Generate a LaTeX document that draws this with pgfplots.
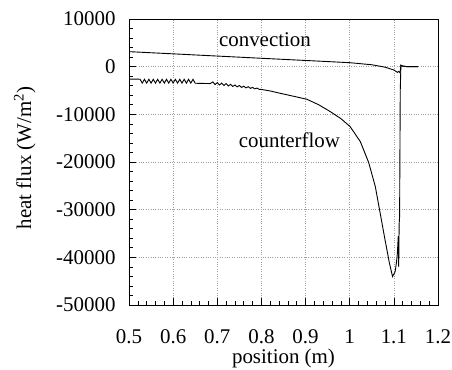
\documentclass[border=0pt]{standalone}
\usepackage{fontspec}
\setmainfont{Liberation Serif}
\usepackage{pgfplots}
\pgfplotsset{compat=1.18}
\begin{document}
\begin{tikzpicture}
\begin{axis}[
 width=309bp, height=286bp, scale only axis,
 xmin=0.5, xmax=1.2, ymin=-50000, ymax=10000,
 scaled y ticks=false, scaled x ticks=false,
 xtick={0.5,0.6,0.7,0.8,0.9,1,1.1,1.2},
 xticklabels={0.5,0.6,0.7,0.8,0.9,1,1.1,1.2},
 ytick={-50000,-40000,-30000,-20000,-10000,0,10000},
 yticklabels={-50000,-40000,-30000,-20000,-10000,0,10000},
 minor x tick num=4, minor y tick num=4,
 tick pos=left, tick align=inside,
 major tick length=7bp, minor tick length=4bp,
 grid=major, major grid style={dotted, gray!75, line width=0.5bp},
 axis line style={line width=0.8bp},
 tick style={line width=0.6bp, black},
 font=\fontsize{21}{24}\selectfont,
 ticklabel style={font=\fontsize{21}{24}\selectfont},
 xticklabel style={yshift=-21bp},
 yticklabel style={xshift=-10bp},
 xlabel={position (m)},
 ylabel={heat flux (W/m\textsuperscript{2})},
 xlabel style={at={(axis description cs:0.5,-0.187)}, anchor=center, inner sep=0pt},
 ylabel style={at={(axis description cs:-0.337,0.514)}, anchor=center, inner sep=0pt},
]
\addplot[black, line width=0.9bp] coordinates {
(0.5,3150) (0.6,2690) (0.7,2225) (0.8,1760) (0.9,1300) (0.95,1070) (1.0,835)
(1.05,400) (1.08,-100) (1.10,-700) (1.108,-1200) (1.111,-1000) (1.114,-1300)
(1.116,300) (1.12,150) (1.13,0) (1.155,0)
};
\addplot[black, line width=0.9bp] coordinates {
(0.500,-2600) (0.520,-2600)
(0.525,-2650) (0.530,-3450) (0.535,-2650) (0.540,-3450) (0.545,-2650) (0.550,-3450)
(0.555,-2650) (0.560,-3450) (0.565,-2650) (0.570,-3450) (0.575,-2650) (0.580,-3450)
(0.585,-2650) (0.590,-3450) (0.595,-2650) (0.600,-3450) (0.605,-2650) (0.610,-3450)
(0.615,-2650) (0.620,-3450) (0.625,-2650) (0.630,-3450) (0.635,-2650) (0.640,-3450)
(0.645,-2650) (0.650,-3480)
(0.684,-3550)
(0.690,-3200) (0.695,-3750) (0.700,-3350) (0.705,-3850) (0.710,-3450) (0.715,-3950)
(0.720,-3550) (0.725,-4050) (0.730,-3700) (0.735,-4150) (0.740,-3850) (0.745,-4250)
(0.750,-3950) (0.755,-4350) (0.760,-4100) (0.765,-4450) (0.770,-4200) (0.775,-4550)
(0.780,-4350) (0.785,-4650) (0.790,-4500) (0.795,-4750) (0.800,-4780)
(0.82,-5100) (0.842,-5580) (0.87,-6150) (0.903,-6840) (0.93,-8000) (0.956,-9430)
(0.98,-10900) (1.001,-12580) (1.024,-15720) (1.043,-20120) (1.058,-25160)
(1.069,-30740) (1.080,-36330) (1.090,-41220) (1.097,-44030) (1.103,-42980)
(1.106,-41000) (1.108,-39120) (1.110,-35500) (1.111,-42000) (1.112,-33000)
(1.113,-31500) (1.1145,-5000) (1.116,300) (1.120,100) (1.130,0) (1.155,0)
};
\node[font=\fontsize{21}{24}\selectfont] at (axis cs:0.808,5600) {convection};
\node[font=\fontsize{21}{24}\selectfont] at (axis cs:0.8635,-15370) {counterflow};
\end{axis}
\pgfresetboundingbox
\path[use as bounding box] ([shift={(-129bp,-65bp)}]current axis.south west) rectangle ([shift={(14bp,19bp)}]current axis.north east);
\end{tikzpicture}
\end{document}
